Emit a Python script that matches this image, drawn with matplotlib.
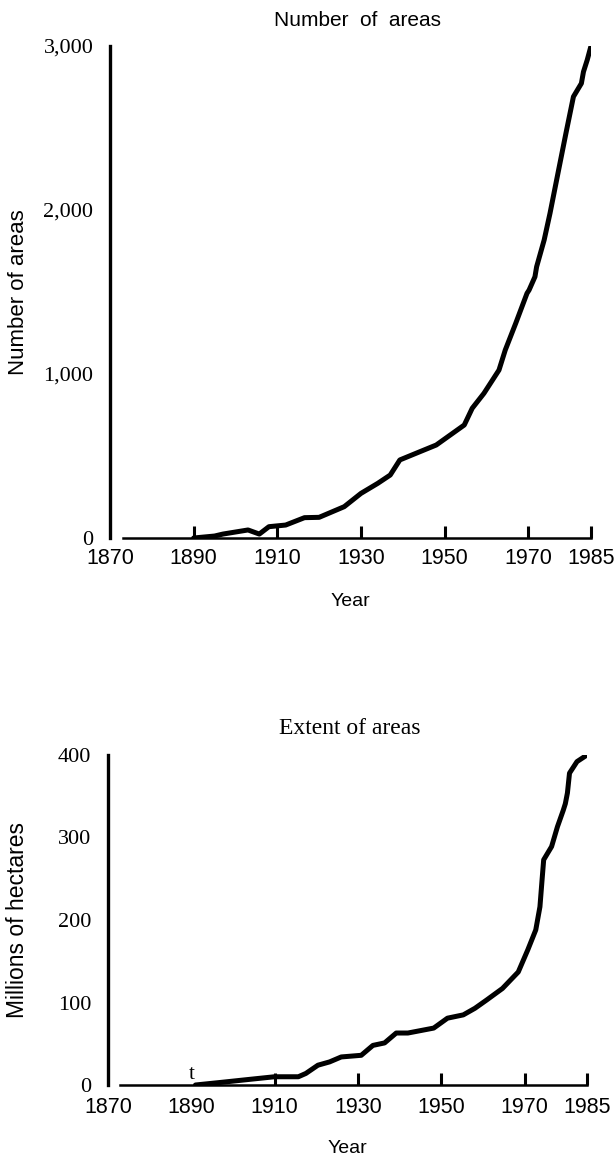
import matplotlib
matplotlib.use('Agg')
import matplotlib.pyplot as plt

# number of protected areas
count_years = [1890, 1895, 1897, 1903, 1905.7, 1908, 1912, 1916.5, 1920, 1926,
               1930, 1934, 1937, 1939.3, 1943.5, 1948, 1954.7, 1956.6, 1959.4,
               1963, 1964.5, 1967, 1969.7, 1970.2, 1971.6, 1972, 1973.8, 1975.2,
               1977.1, 1979, 1980.8, 1982.7, 1983.2, 1984.1, 1985]
count_values = [0, 12, 24, 49, 24, 69, 79, 124, 126, 191,
                272, 333, 384, 476, 520, 567, 689, 791, 882,
                1024, 1146, 1309, 1492, 1512, 1593, 1654, 1817, 1980,
                2224, 2467, 2691, 2772, 2843, 2915, 3000]

# extent (millions of hectares), lower panel
extent_years = [1891, 1896.8, 1904.3, 1910, 1915.7, 1917.5, 1920.4, 1923.2, 1926,
                1930.8, 1933.6, 1936.4, 1939.2, 1942, 1948.2, 1951.5, 1955.3,
                1958.1, 1960.9, 1964.7, 1968.5, 1970.8, 1972.7, 1973.7, 1974.2,
                1974.6, 1976.5, 1977.9, 1979.3, 1979.8, 1980.3, 1980.8, 1982.6, 1985]
extent_values = [0, 3, 7, 10, 10, 14, 24, 28, 34,
                 36, 48, 51, 63, 63, 69, 81, 85,
                 93, 103, 117, 137, 164, 188, 216, 248,
                 273, 289, 313, 333, 341, 354, 378, 392, 400]

year_labels = [1870, 1890, 1910, 1930, 1950, 1970, 1985]
count_ticks = [0, 1000, 2000, 3000]
count_ticklabels = ['0', '1,000', '2,000', '3,000']
extent_ticks = [0, 100, 200, 300, 400]

W, H = 615, 1155
sans = ['Liberation Sans', 'DejaVu Sans']
narrow = ['Liberation Sans Narrow', 'Liberation Sans', 'DejaVu Sans']
serif = ['Liberation Serif', 'DejaVu Serif']

fig = plt.figure(figsize=(W / 100, H / 100), dpi=100)


def make_axes(left, right, top, bottom):
    return fig.add_axes([left / W, 1 - bottom / H, (right - left) / W, (bottom - top) / H])


def style(ax, ymax, yticks, ylabels, tick_years, xpad):
    ax.set_xlim(1870, 1985)
    ax.set_ylim(0, ymax)
    for s in ['top', 'right']:
        ax.spines[s].set_visible(False)
    ax.spines['left'].set_linewidth(2.4)
    ax.spines['bottom'].set_linewidth(1.8)
    ax.spines['bottom'].set_bounds(1873, 1985)
    ax.set_yticks(yticks)
    ax.set_yticklabels(ylabels, family=serif, fontsize=16)
    ax.tick_params(axis='y', length=0, pad=12)
    ax.set_xticks(year_labels)
    ax.set_xticklabels([str(y) for y in year_labels], family=narrow, fontsize=15.5)
    ax.tick_params(axis='x', direction='in', length=8.5, width=2.2, pad=xpad)
    for t, y in zip(ax.xaxis.get_major_ticks(), year_labels):
        if y not in tick_years:
            t.tick1line.set_visible(False)
    ax.patch.set_alpha(0)


# upper panel
ax1 = make_axes(110, 591, 46, 538)
ax1.plot(count_years, count_values, color='black', lw=3.6,
         solid_capstyle='round', solid_joinstyle='round')
style(ax1, 3000, count_ticks, count_ticklabels, [1890, 1910, 1930, 1950, 1970, 1985], 7)
ax1.set_xlabel('Year', family=sans, fontsize=14)
ax1.xaxis.set_label_coords(0.5, -(593 - 538) / (538 - 46))
ax1.set_ylabel('Number of areas', family=sans, fontsize=16)
ax1.yaxis.set_label_coords(-(110 - 29) / (591 - 110), 0.5)
fig.text(358 / W, 1 - 20 / H, 'Number  of  areas', family=sans, fontsize=15,
         ha='center', va='center')

# lower panel
ax2 = make_axes(108, 587, 755, 1085)
ax2.plot(extent_years, extent_values, color='black', lw=3.6,
         solid_capstyle='round', solid_joinstyle='round')
style(ax2, 400, extent_ticks, [str(v) for v in extent_ticks],
      [1910, 1930, 1950, 1970, 1985], 8.5)
ax2.text(1890, 1, 't', family=serif, fontsize=15, ha='center', va='bottom')
ax2.set_xlabel('Year', family=sans, fontsize=14)
ax2.xaxis.set_label_coords(0.5, -(1140 - 1085) / (1085 - 755))
ax2.set_ylabel('Millions of hectares', family=sans, fontsize=16.5)
ax2.yaxis.set_label_coords(-(108 - 29) / (587 - 108), 0.5)
fig.text(350 / W, 1 - 728 / H, 'Extent of areas', family=serif, fontsize=17,
         ha='center', va='center')

fig.savefig('out.png', dpi=100, facecolor='white')
